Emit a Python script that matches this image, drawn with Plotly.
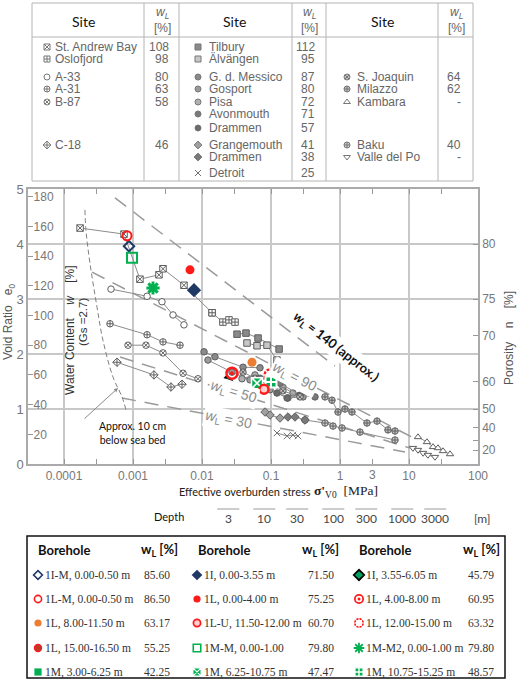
import math
import plotly.graph_objects as go

W, H = 517, 680

# ---------------- literature sites (sigma'v0 [MPa], void ratio e0) ----------------
st_andrew_s = [1.71e-4, 7.41e-4, 1.26e-3, 2.38e-3, 2.72e-3, 5.48e-3, 1.40e-2]
st_andrew_e = [4.29, 4.18, 3.36, 3.44, 3.55, 3.25, 2.75]
oslo_s = [1.40e-2, 2.01e-2, 2.46e-2, 3.01e-2]
oslo_e = [2.75, 2.58, 2.62, 2.58]
tilbury_s = [3.22e-2, 4.34e-2, 6.49e-2, 0.131]
tilbury_e = [2.36, 2.38, 2.29, 2.09]
alv_s = [4.49e-2, 6.27e-2, 8.75e-2, 0.122]
alv_e = [2.20, 2.15, 2.16, 1.89]
a33_s = [4.80e-4, 1.60e-3, 2.63e-3, 3.80e-3, 5.48e-3]
a33_e = [3.18, 3.05, 2.95, 2.71, 2.53]
a31_s = [4.64e-4, 1.60e-3, 2.72e-3, 4.80e-3]
a31_e = [2.55, 2.35, 2.22, 2.16]
b87_s = [8.47e-4, 1.54e-3, 2.72e-3, 5.31e-3, 8.75e-3]
b87_e = [2.16, 2.16, 2.02, 1.65, 1.55]
c18_s = [5.86e-4, 2.01e-3, 3.55e-3, 5.13e-3]
c18_e = [1.85, 1.62, 1.40, 1.45]
messico_s = [1.07e-2, 1.54e-2, 3.93e-2, 6.93e-2]
messico_e = [2.04, 1.95, 1.76, 1.75]
gosport_s = [1.22e-2, 2.72e-2, 4.96e-2, 9.68e-2, 0.176, 0.291]
gosport_e = [1.89, 1.67, 1.53, 1.35, 1.20, 1.22]
pisa_s = [3.80e-2, 5.86e-2, 0.149, 0.208, 0.263]
pisa_e = [1.55, 1.62, 1.40, 1.29, 1.25]
avon_s = [6.93e-2, 0.135, 0.263, 0.434]
avon_e = [1.56, 1.47, 1.25, 1.22]
drammen_s = [0.122, 0.171, 0.263]
drammen_e = [1.29, 1.20, 1.25]
joaquin_s = [3.93e-2, 5.86e-2, 9.05e-2, 0.149, 0.263]
joaquin_e = [1.67, 1.56, 1.44, 1.33, 1.22]
milazzo_s = [0.606, 0.765, 0.936, 1.18, 1.49, 2.46, 3.44, 4.96, 6.27]
milazzo_e = [1.22, 1.16, 0.945, 1.00, 0.945, 0.745, 0.78, 0.62, 0.60]
baku_s = [0.311, 0.606, 0.792, 1.07, 1.95, 6.27]
baku_e = [0.80, 0.745, 0.69, 0.655, 0.58, 0.436]
grange_s = [8.19e-2, 9.68e-2, 0.135]
grange_e = [0.945, 0.89, 0.836]
drammen2_s = [0.176, 0.223, 0.311]
drammen2_e = [0.855, 0.855, 0.80]
detroit_s = [0.122, 0.171, 0.208, 0.246]
detroit_e = [0.564, 0.509, 0.527, 0.509]
kambara_s = [13.5, 18.2, 22.3, 26.3, 31.1, 39.3]
kambara_e = [0.49, 0.40, 0.31, 0.29, 0.236, 0.18]
vallepo_s = [11.4, 13.5, 16.0, 18.8, 23.8]
vallepo_e = [0.29, 0.255, 0.20, 0.164, 0.127]

# ---------------- reference lines ----------------
wl140_s, wl140_e = [5.49e-4, 0.847], [4.84, 1.78]
wl90_s, wl90_e = [2.55e-4, 11.0], [3.49, 0.49]
wl50_s, wl50_e = [6.49e-4, 10.3], [1.945, 0.29]
wl30_s, wl30_e = [6.93e-4, 8.75], [1.20, 0.218]
seabed_s = [2.01e-4, 2.08e-4, 2.38e-4, 3.01e-4, 3.67e-4, 5.13e-4, 6.93e-4, 7.92e-4]
seabed_e = [4.62, 4.25, 3.65, 2.85, 2.25, 1.58, 1.22, 0.98]

# ---------------- boreholes of this study ----------------
bh_names = ["1I-M, 0.00-0.50 m", "1L-M, 0.00-0.50 m", "1L, 8.00-11.50 m", "1L, 15.00-16.50 m", "1M, 3.00-6.25 m",
            "1I, 0.00-3.55 m", "1L, 0.00-4.00 m", "1L-U, 11.50-12.00 m", "1M-M, 0.00-1.00", "1M, 6.25-10.75 m",
            "1I, 3.55-6.05 m", "1L, 4.00-8.00 m", "1L, 12.00-15.00 m", "1M-M2, 0.00-1.00 m", "1M, 10.75-15.25 m"]
bh_wl = ["85.60", "86.50", "63.17", "55.25", "42.25",
         "71.50", "75.25", "60.70", "79.80", "47.47",
         "45.79", "60.95", "63.32", "79.80", "48.57"]
bh_s = [8.75e-4, 8.19e-4, 0.0531, 0.122, 0.0230,
        7.66e-3, 6.70e-3, 0.0792, 9.68e-4, 0.0627,
        0.0230, 0.0272, 0.0968, 1.95e-3, 0.100]
bh_e = [3.96, 4.15, 1.85, 1.60, 1.44,
        3.16, 3.53, 1.36, 3.75, 1.47,
        1.44, 1.65, 1.62, 3.20, 1.49]

# ---------------- axes tick data ----------------
x_ticks = [1e-4, 1e-3, 1e-2, 0.1, 1, 10, 100]
x_ticktext = ["0.0001", "0.001", "0.01", "0.1", "1", "10", "100"]
x_minor = [3e-4, 3e-3, 3e-2, 0.3, 3, 30]
e_ticks = [0, 1, 2, 3, 4, 5]
w_ticks = [20, 40, 60, 80, 100, 120, 140, 160, 180]
Gs = 2.7
n_ticks = [20, 30, 40, 50, 60, 70, 75, 80]
n_labels = ["20", "", "40", "50", "60", "70", "75", "80"]
depth_m = [3, 10, 30, 100, 300, 1000, 3000]
depth_labels = ["3", "10", "30", "100", "300", "1000", "3000"]
stress_per_m = 0.008  # MPa per metre (submerged unit weight ~8 kN/m3)

# ---------------- site table (top) ----------------
site_c1 = ["St. Andrew Bay", "Oslofjord", "A-33", "A-31", "B-87", "C-18"]
site_c1_wl = ["108", "98", "80", "63", "58", "46"]
site_c2 = ["Tilbury", "Älvängen", "G. d. Messico", "Gosport", "Pisa", "Avonmouth", "Drammen",
           "Grangemouth", "Drammen", "Detroit"]
site_c2_wl = ["112", "95", "87", "80", "72", "71", "57", "41", "38", "25"]
site_c3 = ["S. Joaquin", "Milazzo", "Kambara", "Baku", "Valle del Po"]
site_c3_wl = ["64", "62", "-", "40", "-"]

# ---------------- styles ----------------
GREY_LINE = "#8c8c8c"
GREY_MK = "#5e5e5e"
site_style = {
    "St. Andrew Bay": ("square-x", "white"), "Oslofjord": ("square-cross", "white"),
    "A-33": ("circle", "white"), "A-31": ("circle-cross", "white"), "B-87": ("circle-x", "white"),
    "C-18": ("diamond-cross", "white"), "Tilbury": ("square", "#8a8a8a"), "Älvängen": ("square", "#c8c8c8"),
    "G. d. Messico": ("circle", "#8a8a8a"), "Gosport": ("circle", "#9a9a9a"), "Pisa": ("circle", "#b0b0b0"),
    "Avonmouth": ("circle", "#7a7a7a"), "Drammen": ("circle", "#6a6a6a"), "Grangemouth": ("diamond", "#a0a0a0"),
    "Drammen2": ("diamond", "#7a7a7a"), "Detroit": ("x-thin-open", "#707070"), "S. Joaquin": ("circle-x", "#c0c0c0"),
    "Milazzo": ("circle-cross", "#c0c0c0"), "Kambara": ("triangle-up", "white"), "Baku": ("circle-cross", "#d0d0d0"),
    "Valle del Po": ("triangle-down", "white"),
}

RED, NAVY, GREEN, ORANGE = "#ff1a1a", "#1f3864", "#00b050", "#ed7d31"
bh_style = [
    [dict(symbol="diamond-open", size=8, color=NAVY, line=dict(color=NAVY, width=2))],
    [dict(symbol="circle-open", size=9, color=RED, line=dict(color=RED, width=2))],
    [dict(symbol="circle", size=9, color=ORANGE, line=dict(color=ORANGE, width=0))],
    [dict(symbol="circle", size=9, color="#c0392b", line=dict(color=RED, width=1.5))],
    [dict(symbol="square", size=9, color=GREEN, line=dict(color=GREEN, width=0))],
    [dict(symbol="diamond", size=11, color=NAVY, line=dict(color=NAVY, width=0))],
    [dict(symbol="circle", size=9, color=RED, line=dict(color=RED, width=0))],
    [dict(symbol="circle", size=9, color="#ffd0d0", line=dict(color=RED, width=2.5))],
    [dict(symbol="square-open", size=10, color=GREEN, line=dict(color=GREEN, width=2))],
    [dict(symbol="square-x", size=11, color=GREEN, line=dict(color="white", width=1.5))],
    [dict(symbol="diamond", size=13, color="#00a060", line=dict(color="black", width=2.5))],
    [dict(symbol="circle-open", size=11, color=RED, line=dict(color=RED, width=2.5)),
     dict(symbol="circle", size=4, color=RED, line=dict(color=RED, width=0))],
    [dict(symbol="circle", size=11, color="white", line=dict(color=RED, width=2.5)),
     dict(symbol="asterisk-open", size=12, color="white", line=dict(color="white", width=1.5))],
    [dict(symbol="asterisk-open", size=11, color=GREEN, line=dict(color=GREEN, width=3))],
    [dict(symbol="square-cross", size=11, color=GREEN, line=dict(color="white", width=2))],
]
# smaller versions for the borehole table (size factor, line-width factor)
leg_scale = [(0.85, 0.8), (0.8, 0.8), (0.8, 1), (0.8, 0.8), (0.8, 1), (0.75, 1), (0.8, 1), (0.8, 0.7),
             (0.75, 0.8), (0.75, 0.8), (0.62, 0.7), (0.75, 0.7), (0.75, 0.7), (0.8, 0.6), (0.75, 0.7)]

fig = go.Figure()

# ---- reference dashed lines ----
for s, e in [(wl140_s, wl140_e), (wl90_s, wl90_e), (wl50_s, wl50_e), (wl30_s, wl30_e)]:
    fig.add_trace(go.Scatter(x=s, y=e, mode="lines", line=dict(color="#9a9a9a", width=1.5, dash="14px,9px"),
                             showlegend=False, hoverinfo="skip"))
fig.add_trace(go.Scatter(x=seabed_s, y=seabed_e, mode="lines",
                         line=dict(color="#808080", width=1, dash="5px,3px", shape="spline"),
                         showlegend=False, hoverinfo="skip"))

# ---- literature series ----
series = [
    ("St. Andrew Bay", st_andrew_s, st_andrew_e), ("Oslofjord", oslo_s, oslo_e),
    ("Tilbury", tilbury_s, tilbury_e), ("Älvängen", alv_s, alv_e),
    ("A-33", a33_s, a33_e), ("A-31", a31_s, a31_e), ("B-87", b87_s, b87_e), ("C-18", c18_s, c18_e),
    ("G. d. Messico", messico_s, messico_e), ("Gosport", gosport_s, gosport_e), ("Pisa", pisa_s, pisa_e),
    ("Avonmouth", avon_s, avon_e), ("Drammen", drammen_s, drammen_e), ("S. Joaquin", joaquin_s, joaquin_e),
    ("Milazzo", milazzo_s, milazzo_e),
    ("Baku", baku_s, baku_e), ("Grangemouth", grange_s, grange_e), ("Drammen2", drammen2_s, drammen2_e),
    ("Detroit", detroit_s, detroit_e), ("Kambara", kambara_s, kambara_e), ("Valle del Po", vallepo_s, vallepo_e),
]
for name, s, e in series:
    sym, fill = site_style[name]
    fig.add_trace(go.Scatter(x=s, y=e, mode="lines+markers", line=dict(color=GREY_LINE, width=1),
                             marker=dict(symbol=sym, size=6.5, color=fill, line=dict(color=GREY_MK, width=1)),
                             showlegend=False, hoverinfo="skip"))

# ---- boreholes (drawn in an order that keeps overlaps like the figure) ----
draw_order = [4, 10, 0, 1, 8, 5, 6, 13, 2, 11, 12, 3, 14, 9, 7]
for i in draw_order:
    for mk in bh_style[i]:
        fig.add_trace(go.Scatter(x=[bh_s[i]], y=[bh_e[i]], mode="markers", marker=mk,
                                 showlegend=False, hoverinfo="skip"))

# invisible anchors so the secondary (water content / porosity) axes are drawn
fig.add_trace(go.Scatter(x=[x_ticks[0]] * len(w_ticks), y=w_ticks, yaxis="y2", mode="markers",
                         marker=dict(opacity=0), showlegend=False, hoverinfo="skip"))
fig.add_trace(go.Scatter(x=[x_ticks[0]] * len(n_ticks), y=[n / (100 - n) for n in n_ticks], yaxis="y3",
                         mode="markers", marker=dict(opacity=0), showlegend=False, hoverinfo="skip"))

# depth scale bars (above the depth labels) on a hidden copy of the stress axis
bar_half = 10 ** (11 / 69)
bx, by = [], []
for d in depth_m:
    sd = d * stress_per_m
    bx += [sd / bar_half, sd * bar_half, None]
    by += [509, 509, None]
fig.add_trace(go.Scatter(x=bx, y=by, xaxis="x3", yaxis="y4", mode="lines",
                         line=dict(color="#9a9a9a", width=1), showlegend=False, hoverinfo="skip"))

# ---------------- overlay canvas (pixel axes) for tables and texts ----------------
P = dict(xref="x2", yref="y4")
ann = []
shapes = []


def txt(x, y, t, size=12, color="#666", family="Liberation Sans, Arial", xanchor="left", angle=0, **kw):
    ann.append(dict(x=x, y=y, text=t, showarrow=False, xanchor=xanchor, yanchor="middle",
                    font=dict(size=size, color=color, family=family), textangle=angle, **P, **kw))


def hline(x0, x1, y, color="#b4b4b4", width=1):
    shapes.append(dict(type="line", x0=x0, x1=x1, y0=y, y1=y, line=dict(color=color, width=width), **P))


def vline(x, y0, y1, color="#b4b4b4", width=1):
    shapes.append(dict(type="line", x0=x, x1=x, y0=y0, y1=y1, line=dict(color=color, width=width), **P))


# top table frame
hline(32, 473, 3)
hline(32, 473, 37)
hline(32, 473, 181)
for xv in [32, 144, 179, 292, 326, 438, 473]:
    vline(xv, 3, 181)
for xc in [83, 234, 382]:
    txt(xc, 21, "Site", size=14, color="#111", family="Lato", xanchor="center")
for xc in [162, 309, 456]:
    txt(xc, 20, "<i>w<sub>L</sub></i><br>[%]", size=12, color="#666", xanchor="center")

c1_rows = [47, 59, 77, 89, 102, 145]
c2_rows = [47, 59, 77, 89, 102, 114, 128, 145, 157, 173]
c3_rows = [77, 89, 102, 145, 157]
site_keys_c2 = ["Tilbury", "Älvängen", "G. d. Messico", "Gosport", "Pisa", "Avonmouth", "Drammen",
                "Grangemouth", "Drammen2", "Detroit"]
leg_x, leg_y, leg_sym, leg_col = [], [], [], []
for names, keys, vals, rows, mx, tx, vx in [
        (site_c1, site_c1, site_c1_wl, c1_rows, 47, 53, 171),
        (site_c2, site_keys_c2, site_c2_wl, c2_rows, 198, 207, 317),
        (site_c3, site_c3, site_c3_wl, c3_rows, 347, 355, 463)]:
    for nm, key, v, yy in zip(names, keys, vals, rows):
        txt(tx, yy, nm, size=12, color="#666")
        txt(vx, yy, v, size=12, color="#666", xanchor="right")
        sym, fill = site_style[key]
        leg_x.append(mx); leg_y.append(yy); leg_sym.append(sym); leg_col.append(fill)
fig.add_trace(go.Scatter(x=leg_x, y=leg_y, mode="markers", xaxis="x2", yaxis="y4",
                         marker=dict(symbol=leg_sym, size=6, color=leg_col, line=dict(color="#777", width=1)),
                         showlegend=False, hoverinfo="skip"))

# axis titles
txt(9, 322, "Void Ratio   e<sub>0</sub>", size=12, color="#555", xanchor="center", angle=-90)
txt(70, 330, "Water Content    <i>w</i>    [%]", size=12, color="#333", xanchor="center", angle=-90)
txt(83, 322, "(Gs =2.7)", size=11.5, color="#333", xanchor="center", angle=-90)
txt(509, 338, "Porosity    n    [%]", size=12, color="#555", xanchor="center", angle=-90)
txt(177, 491, "Effective overburden stress", size=11, color="#222", family="Lato")
txt(312, 491, "<b>σ'</b><sub>V0</sub>  [MPa]", size=13.5, color="#222", family="Liberation Serif, Times New Roman")

# wL labels
txt(336, 347, "<b><i>w</i><sub>L</sub> = 140 (approx.)</b>", size=13, color="#111", family="Lato",
    xanchor="center", angle=38, bgcolor="white")
txt(294, 377, "<i>w</i><sub>L</sub> = 90", size=14, color="#8a8a8a", xanchor="center", angle=27, bgcolor="white")
txt(233, 392, "<i>w</i><sub>L</sub> = 50", size=14, color="#8a8a8a", xanchor="center", angle=17, bgcolor="white")
txt(228, 420, "<i>w</i><sub>L</sub> = 30", size=14, color="#8a8a8a", xanchor="center", angle=11, bgcolor="white")
txt(132, 433, "Approx. 10 cm<br>below sea bed", size=10.5, color="#111", family="Lato", xanchor="center")
ann.append(dict(x=118, y=388, ax=83, ay=420, axref="x2", ayref="y4", text="", showarrow=True,
                arrowhead=2, arrowsize=0.8, arrowwidth=1, arrowcolor="#8a8a8a", **P))

# "3" tick label on stress axis
ann.append(dict(x=math.log10(3), y=475, xref="x", yref="y4", text="3", showarrow=False,
                font=dict(size=12, color="#777", family="Liberation Sans, Arial")))

# depth scale labels
txt(152, 516, "Depth", size=11, color="#111", family="Lato")
for d, lab in zip(depth_m, depth_labels):
    ann.append(dict(x=math.log10(d * stress_per_m), y=518, xref="x", yref="y4", text=lab, showarrow=False,
                    font=dict(size=12, color="#444", family="Lato")))
txt(482, 518, "[m]", size=12, color="#444", family="Lato", xanchor="center")

# bottom borehole table
shapes.append(dict(type="rect", x0=27, x1=505, y0=536, y1=678, line=dict(color="#111", width=1.5), **P))
for bxh, wx in [(36, 139), (196, 300), (357, 461)]:
    txt(bxh, 550, "<b>Borehole</b>", size=13, color="#111", family="Lato")
    txt(wx, 550, "<b>w<sub>L</sub> [%]</b>", size=13, color="#111", family="Lato")
rows_y = [575, 599, 623, 648, 672]
cols = [(38, 43, 172), (197, 202, 336), (359, 364, 496)]
for i in range(15):
    c, r = divmod(i, 5)
    mx, tx, vx = cols[c]
    yy = rows_y[r]
    txt(tx, yy, bh_names[i], size=11.5, color="#333", family="Liberation Serif, Times New Roman")
    txt(vx, yy, bh_wl[i], size=11.5, color="#333", family="Liberation Serif, Times New Roman", xanchor="right")
    fs, fw = leg_scale[i]
    for mk in bh_style[i]:
        m = dict(mk)
        m["size"] = mk["size"] * fs
        m["line"] = dict(color=mk["line"]["color"], width=mk["line"]["width"] * fw)
        fig.add_trace(go.Scatter(x=[mx], y=[yy], mode="markers", xaxis="x2", yaxis="y4", marker=m,
                                 showlegend=False, hoverinfo="skip"))

# ---------------- layout ----------------
X0, X1, Y0, Y1 = 28, 478, 189, 464
XR = [-4 - 36 / 69, 2]
ax_font = dict(size=12, color="#777", family="Liberation Sans, Arial")
fig.update_layout(
    width=W, height=H, margin=dict(l=0, r=0, t=0, b=0, autoexpand=False),
    paper_bgcolor="white", plot_bgcolor="rgba(0,0,0,0)", showlegend=False,
    xaxis=dict(type="log", domain=[X0 / W, X1 / W], range=XR, anchor="y", automargin=False,
               tickvals=x_ticks, ticktext=x_ticktext, ticks="inside", ticklen=5, tickcolor="#999",
               showgrid=True, gridcolor="#c8c8c8", gridwidth=1.5, showline=True, linecolor="#aaa",
               linewidth=1.5, mirror="ticks", zeroline=False, tickfont=ax_font,
               minor=dict(tickvals=x_minor, ticks="inside", ticklen=5, tickcolor="#999", showgrid=False)),
    xaxis3=dict(type="log", domain=[X0 / W, X1 / W], range=XR, anchor="y4", visible=False,
                showgrid=False, zeroline=False, automargin=False, fixedrange=True),
    yaxis=dict(domain=[1 - Y1 / H, 1 - Y0 / H], range=[0, 5], tickvals=e_ticks, ticks="", automargin=False,
               showgrid=True, gridcolor="#c8c8c8", gridwidth=1.5, showline=True, linecolor="#aaa",
               linewidth=1.5, zeroline=False, tickfont=dict(size=13, color="#777", family="Liberation Sans, Arial")),
    yaxis2=dict(overlaying="y", anchor="x", side="left", range=[0, 500 / Gs], tickvals=w_ticks, automargin=False,
                ticks="inside", ticklen=5, tickcolor="#999", ticklabelposition="inside",
                showgrid=False, showline=False, zeroline=False, tickfont=ax_font),
    yaxis3=dict(overlaying="y", anchor="x", side="right", range=[0, 5], automargin=False,
                tickvals=[n / (100 - n) for n in n_ticks], ticktext=n_labels,
                ticks="inside", ticklen=5, tickcolor="#999", showgrid=False, showline=True,
                linecolor="#aaa", linewidth=1.5, zeroline=False, tickfont=ax_font),
    xaxis2=dict(domain=[0, 1], range=[0, W], visible=False, anchor="y4", fixedrange=True, automargin=False,
                showgrid=False, zeroline=False),
    yaxis4=dict(domain=[0, 1], range=[H, 0], visible=False, anchor="x2", fixedrange=True, automargin=False,
                showgrid=False, zeroline=False),
    annotations=ann, shapes=shapes,
)
fig.write_html("out.html", config={"displayModeBar": False},
               post_script="document.body.style.margin='0';document.body.style.overflow='hidden';")
